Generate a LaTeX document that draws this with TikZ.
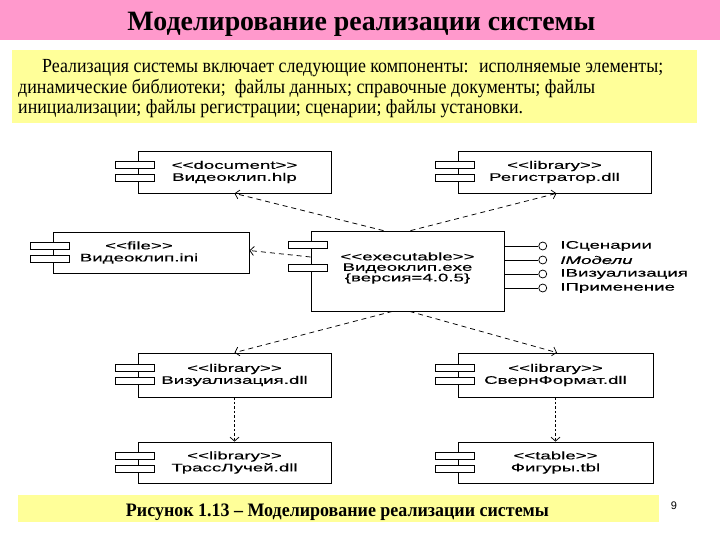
\documentclass[tikz,border=0pt]{standalone}
\usepackage{fontspec}
\setmainfont{Liberation Serif}
\newfontfamily\dia[FakeStretch=1.7,FakeBold=0.35,Ligatures=TeXOff]{Liberation Sans}
\newfontfamily\pgfont{Liberation Sans}
\usetikzlibrary{arrows.meta,calc}
\definecolor{pinkband}{HTML}{FF99CC}
\definecolor{yellowbg}{HTML}{FFFF99}
\newcommand\fitto[2]{\resizebox{#1}{\height}{#2}}
\newcommand\ctabs[3]{%
  \draw[tabst] ([shift={(-22pt,-#2pt)}]#1.north west) rectangle ++(39pt,-7pt);
  \draw[tabst] ([shift={(-22pt,-#3pt)}]#1.north west) rectangle ++(39pt,-7pt);}
\begin{document}
\begin{tikzpicture}[x=1pt,y=-1pt,
  comp/.style={draw, line width=0.75pt, minimum width=193pt, minimum height=42pt,
    inner sep=0pt, font=\dia\fontsize{11}{12}\selectfont, align=center},
  ctext/.style={inner sep=0pt, font=\dia\fontsize{11}{12}\selectfont, align=center},
  tabst/.style={draw, fill=white, line width=0.75pt},
  dep/.style={line width=0.75pt, dash pattern=on 5pt off 4pt,
    -{Straight Barb[length=4pt,width=9pt]}},
  dotdep/.style={line width=0.75pt, dash pattern=on 2.5pt off 2pt,
    -{Straight Barb[length=4pt,width=9pt]}},
  lolli/.style={circle, draw, line width=0.75pt, minimum size=8pt, inner sep=0pt},
  lbl/.style={inner sep=0pt, anchor=west, font=\dia\fontsize{11}{12}\selectfont},
  ptext/.style={inner sep=0pt, anchor=base west}]
\useasboundingbox (0,0) rectangle (720,540);
\fill[white] (0,0) rectangle (720,540);
% title band
\fill[pinkband] (0,0) rectangle (720,40);
\node[inner sep=0pt, anchor=base] (title) at (361.5,31) {\fitto{468pt}{\fontsize{28}{30}\selectfont\bfseries Моделирование реализации системы}};
% text box
\fill[yellowbg] (12,50) rectangle (697,123);
\node[ptext] (p1) at (42,73) {\fitto{621pt}{\fontsize{20}{22}\selectfont Реализация системы включает следующие компоненты:~ исполняемые элементы;}};
\node[ptext] (p2) at (18,93.3) {\fitto{577pt}{\fontsize{20}{22}\selectfont динамические библиотеки;~ файлы данных; справочные документы; файлы}};
\node[ptext] (p3) at (18,113.5) {\fitto{505pt}{\fontsize{20}{22}\selectfont инициализации; файлы регистрации; сценарии; файлы установки.}};
% caption
\fill[yellowbg] (18,495) rectangle (659,522);
\node[inner sep=0pt, anchor=base] (cap) at (337.5,516) {\fitto{423pt}{\fontsize{19}{21}\selectfont\bfseries Рисунок 1.13 – Моделирование реализации системы}};
\node[inner sep=0pt] (pg) at (674,506) {\pgfont\fontsize{11}{12}\selectfont 9};
% components
\node[comp] (hlp) at (234.5,172) {<<document>>\\Видеоклип.hlp};
\ctabs{hlp}{10.5}{24}
\node[comp] (reg) at (554.5,172) {<<library>>\\Регистратор.dll};
\ctabs{reg}{10.5}{24}
\node[comp, minimum width=196pt, minimum height=41pt] (ini) at (151,252.5) {};
\node[ctext] (initxt) at (139,252.5) {<<file>>\\Видеоклип.ini};
\ctabs{ini}{10.5}{23.5}
\node[comp, minimum height=80pt] (exe) at (407.5,271) {};
\node[ctext, font=\dia\fontsize{11}{10.5}\selectfont] (exetxt) at (407.5,268) {<<executable>>\\Видеоклип.exe\\\{версия=4.0.5\}};
\ctabs{exe}{11}{33.5}
\node[comp, minimum height=44pt] (viz) at (234.5,375) {<<library>>\\Визуализация.dll};
\ctabs{viz}{11.5}{25}
\node[comp, minimum height=41pt] (trass) at (234.5,462.5) {<<library>>\\ТрассЛучей.dll};
\ctabs{trass}{10.5}{23.5}
\node[comp, minimum width=195pt, minimum height=44pt] (svern) at (555.5,375) {<<library>>\\СвернФормат.dll};
\ctabs{svern}{11.5}{25}
\node[comp, minimum width=195pt, minimum height=41pt] (fig) at (555.5,462.5) {<<table>>\\Фигуры.tbl};
\ctabs{fig}{10.5}{23.5}
% dependencies
\draw[dep] ([xshift=-24pt]exe.north) -- (hlp.south);
\draw[dep] ([xshift=3pt]exe.north) -- ([xshift=2pt]reg.south);
\draw[dep] ([yshift=14pt]exe.west) -- ([yshift=2pt]ini.east);
\draw[dep] ([xshift=-15pt]exe.south) -- (viz.north);
\draw[dep] ([xshift=2pt]exe.south) -- ([xshift=1.5pt]svern.north);
\draw[dotdep] (viz.south) -- (trass.north);
\draw[dotdep] (svern.south) -- (fig.north);
% interfaces
\draw[line width=0.75pt] ([yshift=25pt]exe.east) -- ++(34pt,0) node[lolli,anchor=west] (c1) {};
\node[lbl] (t1) at ([xshift=13pt]c1.east) {IСценарии};
\draw[line width=0.75pt] ([yshift=11pt]exe.east) -- ++(34pt,0) node[lolli,anchor=west] (c2) {};
\node[lbl] (t2) at ([xshift=13pt]c2.east) {\itshape IМодели};
\draw[line width=0.75pt] ([yshift=-3pt]exe.east) -- ++(34pt,0) node[lolli,anchor=west] (c3) {};
\node[lbl] (t3) at ([xshift=13pt]c3.east) {IВизуализация};
\draw[line width=0.75pt] ([yshift=-17pt]exe.east) -- ++(34pt,0) node[lolli,anchor=west] (c4) {};
\node[lbl] (t4) at ([xshift=13pt]c4.east) {IПрименение};
\end{tikzpicture}
\end{document}
